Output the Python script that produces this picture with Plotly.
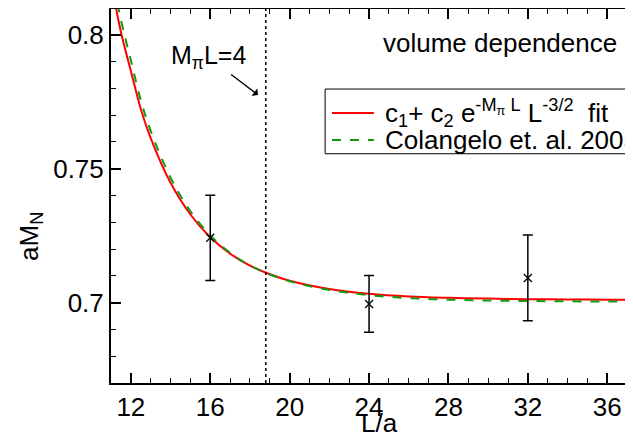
import plotly.graph_objects as go

# lattice data points
L_data = [16, 24, 32]
M_data = [0.7242, 0.6995, 0.7092]
M_err = [0.0159, 0.0106, 0.0160]

# fit curves
L_curve = [11.0, 11.5, 12, 12.5, 13, 14, 15, 16, 17, 18, 19, 20, 22, 24, 26, 28, 30, 32, 34, 36, 38]
M_fit = [0.8199, 0.8010, 0.7865, 0.7723, 0.7614, 0.7447, 0.7329, 0.7244, 0.7183, 0.7138, 0.7106,
         0.7082, 0.7051, 0.7033, 0.7023, 0.7018, 0.7015, 0.7013, 0.7012, 0.7011, 0.7011]
M_colangelo = [0.8249, 0.8055, 0.7905, 0.7756, 0.7641, 0.7466, 0.7341, 0.7251, 0.7186, 0.7139, 0.7105,
               0.7080, 0.7047, 0.7028, 0.7017, 0.7011, 0.7008, 0.7006, 0.7005, 0.7004, 0.7004]

L_mpi4 = 18.8

FONT = "Liberation Sans, Arial, sans-serif"
FIT_NAME = "c<sub>1</sub>+ c<sub>2</sub> e<sup>-M<sub>π</sub> L</sup> L<sup>-3/2</sup>  fit"
COL_NAME = "Colangelo et. al. 2005"
RED = "red"
GREEN = "#119a11"

fig = go.Figure()

fig.add_trace(go.Scatter(x=L_curve, y=M_fit, mode="lines", line_shape="spline",
                         line=dict(color=RED, width=2), name=FIT_NAME, showlegend=False))
fig.add_trace(go.Scatter(x=L_curve, y=M_colangelo, mode="lines", line_shape="spline",
                         line=dict(color=GREEN, width=2, dash="dash"), name=COL_NAME, showlegend=False))
fig.add_trace(go.Scatter(x=L_data, y=M_data, mode="markers", showlegend=False,
                         marker=dict(symbol="x-thin-open", size=8, color="black",
                                     line=dict(color="black", width=1.3)),
                         error_y=dict(type="data", array=M_err, color="black", thickness=1.5, width=5)))

# M_pi L = 4 line
fig.add_shape(type="line", x0=L_mpi4, x1=L_mpi4, y0=0, y1=1, xref="x", yref="paper",
              line=dict(color="black", width=1.5, dash="dot"))

# legend box drawn by hand (runs off the right edge like the original)
fig.add_shape(type="rect", xref="paper", yref="paper", x0=0.404, x1=1.2, y0=0.613, y1=0.786,
              line=dict(color="black", width=1), fillcolor="white", layer="above")
fig.add_shape(type="line", xref="paper", yref="paper", x0=0.417, x1=0.496, y0=0.722, y1=0.722,
              line=dict(color=RED, width=2))
fig.add_shape(type="line", xref="paper", yref="paper", x0=0.417, x1=0.496, y0=0.650, y1=0.650,
              line=dict(color=GREEN, width=2, dash="dash"))
fig.add_annotation(x=0.513, y=0.722, xref="paper", yref="paper", xanchor="left", yanchor="middle",
                   text=FIT_NAME, showarrow=False, font=dict(size=26, color="black"))
fig.add_annotation(x=0.513, y=0.650, xref="paper", yref="paper", xanchor="left", yanchor="middle",
                   text=COL_NAME, showarrow=False, font=dict(size=26, color="black"))

fig.add_annotation(x=18.41, y=0.7775, xref="x", yref="y", ax=-50, ay=-38,
                   text="M<sub>π</sub>L=4", showarrow=True, arrowhead=1, arrowsize=1.2,
                   arrowwidth=1.3, arrowcolor="black", font=dict(size=25, color="black"))
fig.add_annotation(x=0.734, y=0.909, xref="paper", yref="paper", xanchor="center", yanchor="middle",
                   text="volume dependence", showarrow=False, font=dict(size=26, color="black"))
fig.add_annotation(x=-0.153, y=0.393, xref="paper", yref="paper", xanchor="center", yanchor="middle",
                   text="aM<sub>N</sub>", textangle=-90, showarrow=False, font=dict(size=26, color="black"))
fig.add_annotation(x=0.5075, y=-0.108, xref="paper", yref="paper", xanchor="center", yanchor="middle",
                   text="L/a", showarrow=False, font=dict(size=26, color="black"))

fig.update_xaxes(range=[11, 37.7], tick0=0, dtick=4, ticks="inside", ticklen=10, tickwidth=1.5,
                 tickcolor="black", showline=True, linecolor="black", linewidth=2, mirror="ticks",
                 showgrid=False, zeroline=False, automargin=False, tickfont=dict(size=26, color="black"),
                 minor=dict(dtick=1, ticks="inside", ticklen=5, tickwidth=1.2, tickcolor="black"))
fig.update_yaxes(range=[0.67, 0.8096], tick0=0, dtick=0.05, ticks="inside", ticklen=10, tickwidth=1.5,
                 tickcolor="black", showline=True, linecolor="black", linewidth=2, mirror=False,
                 showgrid=False, zeroline=False, automargin=False, tickfont=dict(size=26, color="black"),
                 minor=dict(dtick=0.01, ticks="inside", ticklen=5, tickwidth=1.2, tickcolor="black"))

fig.update_layout(width=633, height=435, margin=dict(l=103, r=0, t=1, b=60),
                  paper_bgcolor="white", plot_bgcolor="white",
                  font=dict(family=FONT, color="black"), showlegend=False)

# the figure runs past the window edge, as in the original: no scrollbars
fig.write_html("out.html", config={"displayModeBar": False},
               post_script="document.body.style.overflow = 'hidden';")
